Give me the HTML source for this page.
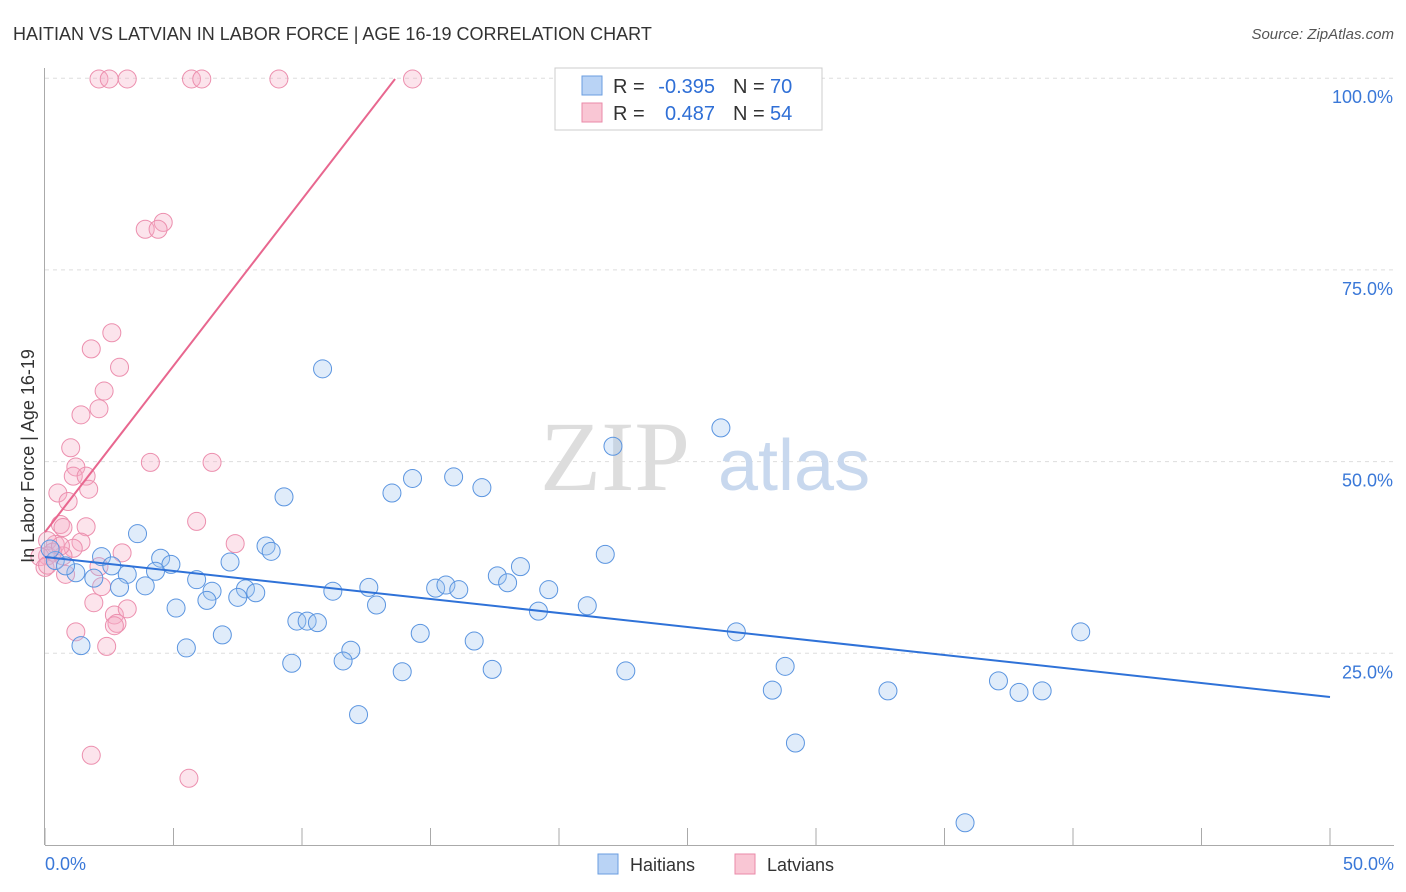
<!DOCTYPE html>
<html><head><meta charset="utf-8"><style>
body{margin:0;background:#fff;font-family:"Liberation Sans",sans-serif;}
svg{display:block}
</style></head><body>
<svg width="1406" height="892">
<text x="13" y="40" font-size="18" fill="#333">HAITIAN VS LATVIAN IN LABOR FORCE | AGE 16-19 CORRELATION CHART</text>
<text x="1394" y="39" font-size="15" fill="#555" font-style="italic" text-anchor="end">Source: ZipAtlas.com</text>
<g id="grid"></g>
<text x="690" y="490" font-size="100" fill="#ddd" font-family="Liberation Serif" text-anchor="end">ZIP</text>
<text x="718" y="490" font-size="72" fill="#c8d8ee">atlas</text>
<g id="pts"></g>
<g id="lines"></g>
<text x="34" y="456" font-size="18" fill="#333" text-anchor="middle" transform="rotate(-90 34 456)">In Labor Force | Age 16-19</text>
<g>
<rect x="555" y="68" width="267" height="62" fill="#fff" stroke="#ccc"/>
<rect x="582" y="76" width="20" height="19" fill="#b9d3f5" stroke="#6a9ee0"/>
<rect x="582" y="103" width="20" height="19" fill="#f9c6d4" stroke="#ea8aa8"/>
<text x="613" y="93" font-size="20" fill="#333">R =</text>
<text x="715" y="93" font-size="20" fill="#2f6fd6" text-anchor="end">-0.395</text>
<text x="733" y="93" font-size="20" fill="#333">N =</text>
<text x="770" y="93" font-size="20" fill="#2f6fd6">70</text>
<text x="613" y="120" font-size="20" fill="#333">R =</text>
<text x="715" y="120" font-size="20" fill="#2f6fd6" text-anchor="end">0.487</text>
<text x="733" y="120" font-size="20" fill="#333">N =</text>
<text x="770" y="120" font-size="20" fill="#2f6fd6">54</text>
</g>
<g>
<rect x="598" y="854" width="20" height="20" fill="#b9d3f5" stroke="#6a9ee0"/>
<text x="630" y="871" font-size="18" fill="#333">Haitians</text>
<rect x="735" y="854" width="20" height="20" fill="#f9c6d4" stroke="#ea8aa8"/>
<text x="767" y="871" font-size="18" fill="#333">Latvians</text>
</g>
</svg>
<script>
const yTicks=[25,50,75,100];
const yTickLabels=["25.0%","50.0%","75.0%","100.0%"];
const haitiansX=[10.8,26.3,22.1,15.9,14.3,13.5,17.0,9.3,3.6,8.6,8.8,2.2,4.5,21.8,4.9,7.2,2.6,4.3,3.2,1.2,1.9,18.5,17.6,18.0,5.9,7.8,8.2,6.5,3.9,2.9,12.6,11.2,15.2,15.6,16.1,19.6,7.5,6.3,5.1,12.9,19.2,21.1,9.8,10.2,10.6,14.6,6.9,16.7,26.9,40.3,5.5,1.4,11.9,11.6,9.6,13.9,17.4,22.6,28.8,28.3,32.8,37.1,37.9,38.8,12.2,29.2,35.8,0.4,0.8,0.2];
const haitiansY=[62.1,54.4,52.0,48.0,47.8,45.9,46.6,45.4,40.6,39.0,38.3,37.6,37.4,37.9,36.6,36.9,36.4,35.7,35.3,35.5,34.8,36.3,35.1,34.2,34.6,33.4,32.9,33.1,33.8,33.6,33.6,33.1,33.5,33.9,33.3,33.3,32.3,31.9,30.9,31.3,30.5,31.2,29.2,29.2,29.0,27.6,27.4,26.6,27.8,27.8,25.7,26.0,25.4,24.0,23.7,22.6,22.9,22.7,23.3,20.2,20.1,21.4,19.9,20.1,17.0,13.3,2.9,37.1,36.4,38.6];
const latviansX=[2.1,2.5,3.2,5.7,6.1,9.1,14.3,4.6,3.9,4.4,2.6,1.8,2.9,2.3,2.1,1.4,1.0,4.1,6.5,1.2,1.1,1.6,1.7,0.5,0.9,5.9,0.6,0.7,1.6,7.4,1.4,1.1,0.4,0.1,0.1,0.7,3.0,2.1,0.8,2.2,1.9,2.7,3.2,1.2,2.8,2.7,2.4,1.8,5.6,0.3,-0.2,0,0.1,0.6];
const latviansY=[99.9,99.9,99.9,99.9,99.9,99.9,99.9,81.2,80.3,80.3,66.8,64.7,62.3,59.2,56.9,56.1,51.8,49.9,49.9,49.3,48.1,48.1,46.4,45.9,44.8,42.2,41.8,41.4,41.5,39.3,39.5,38.7,39.2,39.7,37.7,37.7,38.1,36.3,35.3,33.7,31.6,30.0,30.8,27.8,28.9,28.6,25.9,11.7,8.7,38.2,37.6,36.2,36.5,39.0];
const haitiansTrend=[37.56,19.3];
const latviansTrend=[40.8,99.9];
const X0=45,X1=1330,Y0=845,PXY=7.668;
const sx=v=>X0+v*(X1-X0)/50, sy=v=>Y0-v*PXY;
const NS="http://www.w3.org/2000/svg";
function mk(t,a,p){const e=document.createElementNS(NS,t);for(const k in a)e.setAttribute(k,a[k]);p.appendChild(e);return e;}
const grid=document.getElementById('grid');
mk('line',{x1:44.5,y1:68,x2:44.5,y2:845,stroke:'#aaa'},grid);
mk('line',{x1:45,y1:845.5,x2:1394,y2:845.5,stroke:'#aaa'},grid);
for(let i=0;i<=10;i++){const t=mk('line',{x1:sx(i*5),y1:828,x2:sx(i*5),y2:845,stroke:'#aaa'},grid);

}
yTicks.forEach((v,i)=>{const l=mk('line',{x1:45,y1:sy(v),x2:1394,y2:sy(v),stroke:'#ddd','stroke-dasharray':'4,4'},grid);


const t=mk('text',{x:1393,y:sy(v)+25,'font-size':18,fill:'#3a78d8','text-anchor':'end'},grid);t.textContent=yTickLabels[i];

});
[["0.0%",45,"start"],["50.0%",1394,"end"]].forEach(a=>{const t=mk('text',{x:a[1],y:870,'font-size':18,fill:'#3a78d8','text-anchor':a[2]},grid);t.textContent=a[0];

});
const pts=document.getElementById('pts');
latviansX.forEach((x,i)=>{const c=mk('circle',{cx:sx(x),cy:sy(latviansY[i]),r:9,fill:'rgba(246,170,195,0.32)',stroke:'#ec8fae','stroke-width':1},pts);

});
haitiansX.forEach((x,i)=>{const c=mk('circle',{cx:sx(x),cy:sy(haitiansY[i]),r:9,fill:'rgba(160,196,240,0.32)',stroke:'#5b95e0','stroke-width':1},pts);

});
const lines=document.getElementById('lines');
const bl=mk('line',{x1:sx(0),y1:sy(haitiansTrend[0]),x2:sx(50),y2:sy(haitiansTrend[1]),stroke:'#2f72d8','stroke-width':2},lines);


const xe=13.62;
const pl=mk('line',{x1:sx(0),y1:sy(latviansTrend[0]),x2:sx(xe),y2:sy(latviansTrend[1]),stroke:'#e8678f','stroke-width':2},lines);


</script>
</body></html>
